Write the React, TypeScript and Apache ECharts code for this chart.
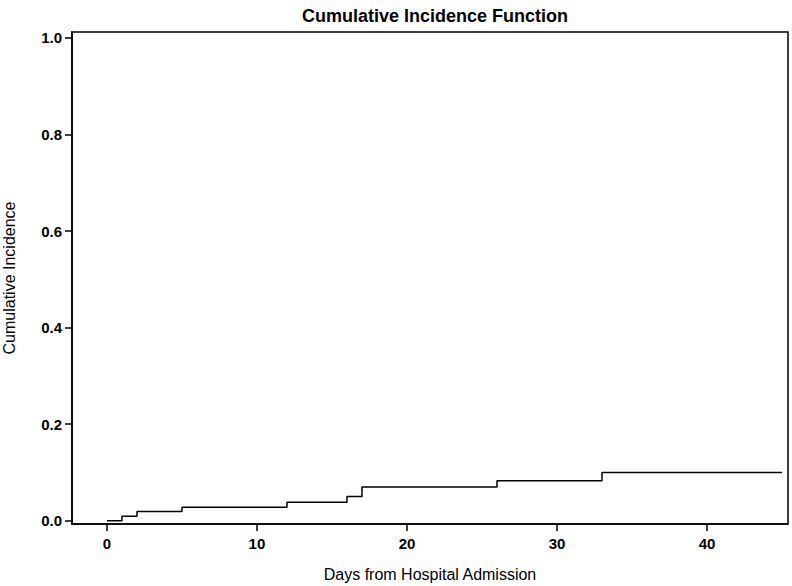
import React, { useEffect, useRef } from "react";
import * as echarts from "echarts";

const days = [0, 1, 2, 5, 12, 16, 17, 26, 33, 45];
const incidence = [0, 0.009, 0.019, 0.028, 0.038, 0.05, 0.07, 0.083, 0.1, 0.1];
const xTicks = [0, 10, 20, 30, 40];
const yTicks = [0, 0.2, 0.4, 0.6, 0.8, 1.0];
const titleText = "Cumulative Incidence Function";
const xName = "Days from Hospital Admission";
const yName = "Cumulative Incidence";

export default function App() {
  const ref = useRef<HTMLDivElement>(null);
  useEffect(() => {
    if (!ref.current) return;
    const chart = echarts.init(ref.current, null, { renderer: "svg" });
    const font = "'Liberation Sans', Arial, sans-serif";
    chart.setOption({
      animation: false,
      backgroundColor: "#ffffff",
      title: {
        text: titleText,
        left: 430,
        textAlign: "center",
        top: 2,
        textStyle: { fontFamily: font, fontWeight: "bold", fontSize: 18, color: "#000" },
      },
      grid: {
        left: 72,
        right: 4,
        top: 32,
        bottom: 62,
        show: true,
        borderColor: "#000",
        borderWidth: 1.5,
        containLabel: false,
        outerBoundsMode: "none",
      },
      xAxis: {
        type: "value",
        min: -2.33,
        max: 45.4,
        name: xName,
        nameLocation: "middle",
        nameGap: 42,
        nameTextStyle: { fontFamily: font, fontSize: 16, color: "#000" },
        splitLine: { show: false },
        axisLine: { show: true, onZero: false, lineStyle: { color: "#000", width: 1.5 } },
        axisTick: { show: true, length: 7, customValues: xTicks, lineStyle: { color: "#000", width: 1.5 } },
        axisLabel: {
          customValues: xTicks,
          fontFamily: font,
          fontSize: 15,
          fontWeight: "bold",
          color: "#000",
          margin: 12,
          formatter: (v: number) => String(Math.round(v)),
        },
      },
      yAxis: {
        type: "value",
        min: -0.0068,
        max: 1.0124,
        name: yName,
        nameLocation: "middle",
        nameGap: 55,
        nameTextStyle: { fontFamily: font, fontSize: 16, color: "#000" },
        splitLine: { show: false },
        axisLine: { show: true, onZero: false, lineStyle: { color: "#000", width: 1.5 } },
        axisTick: { show: true, length: 7, customValues: yTicks, lineStyle: { color: "#000", width: 1.5 } },
        axisLabel: {
          customValues: yTicks,
          fontFamily: font,
          fontSize: 15,
          fontWeight: "bold",
          color: "#000",
          margin: 10,
          formatter: (v: number) => v.toFixed(1),
        },
      },
      series: [
        {
          type: "line",
          step: "end",
          data: days.map((d, i) => [d, incidence[i]]),
          showSymbol: false,
          lineStyle: { color: "#000", width: 1.5 },
        },
      ],
    });
    return () => chart.dispose();
  }, []);
  return <div ref={ref} style={{ width: 792, height: 586, position: "absolute", left: 0, top: 0 }} />;
}
